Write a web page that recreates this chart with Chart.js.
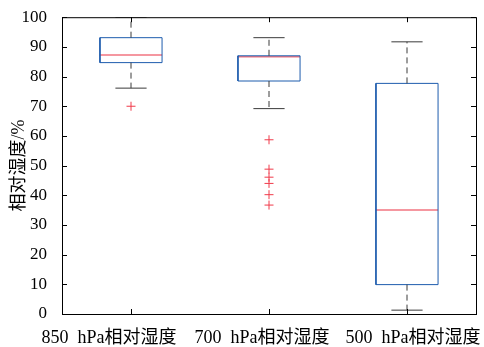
<!DOCTYPE html>
<html>
<head>
<meta charset="utf-8">
<script src="https://cdn.jsdelivr.net/npm/chart.js@4/dist/chart.umd.min.js"></script>
<style>
    html, body { margin: 0; padding: 0; background: #fff; }
    #wrap { width: 484px; height: 347px; }
</style>
</head>
<body>
<div id="wrap"><canvas id="myChart" width="484" height="347"></canvas></div>
<script>
// box plot values
const categories = ['850  hPa相对湿度', '700  hPa相对湿度', '500  hPa相对湿度'];
const q1 = [84.7, 78.5, 9.9];
const median = [87.3, 86.7, 35.0];
const q3 = [93.1, 87.0, 77.7];
const whiskerLow = [76.1, 69.2, 1.3];
const whiskerHigh = [100, 93.1, 91.7];
const outliers = [
    [70.0],
    [58.7, 48.8, 46.1, 44.0, 40.2, 36.7],
    []
];
const yMin = 0;
const yMax = 100;
const yStep = 10;

const fontFamily = '"Liberation Serif", "Noto Sans CJK SC", serif';
const boxColor = '#1d5cad';
const medianColor = '#f27580';
const whiskerColor = '#3a3a3a';
const outlierColor = '#f03a4a';
const boxHalf = 0.225;
const capHalf = 0.113;
const labelShift = [-22, -7, 6];

Chart.defaults.font.family = fontFamily;
Chart.defaults.color = '#000';

function segment(points, color, dash) {
    return {
        type: 'scatter',
        data: points,
        showLine: true,
        borderColor: color,
        borderWidth: 1,
        borderDash: dash || [],
        pointRadius: 0,
        pointHoverRadius: 0,
        fill: false
    };
}

const datasets = [];
categories.forEach((name, i) => {
    const x = i + 1;
    // dashed whiskers
    datasets.push(segment([{ x: x, y: q3[i] }, { x: x, y: whiskerHigh[i] }], whiskerColor, [6, 4]));
    datasets.push(segment([{ x: x, y: q1[i] }, { x: x, y: whiskerLow[i] }], whiskerColor, [6, 4]));
    // caps
    datasets.push(segment([{ x: x - capHalf, y: whiskerHigh[i] }, { x: x + capHalf, y: whiskerHigh[i] }], whiskerColor));
    datasets.push(segment([{ x: x - capHalf, y: whiskerLow[i] }, { x: x + capHalf, y: whiskerLow[i] }], whiskerColor));
    // box
    datasets.push(segment([
        { x: x - boxHalf, y: q1[i] },
        { x: x + boxHalf, y: q1[i] },
        { x: x + boxHalf, y: q3[i] },
        { x: x - boxHalf, y: q3[i] },
        { x: x - boxHalf, y: q1[i] }
    ], boxColor));
    // median
    const med = segment([{ x: x - boxHalf, y: median[i] }, { x: x + boxHalf, y: median[i] }], medianColor);
    med.borderWidth = 1.5;
    datasets.push(med);
    // outliers
    if (outliers[i].length) {
        datasets.push({
            type: 'scatter',
            data: outliers[i].map(v => ({ x: x, y: v })),
            pointStyle: 'cross',
            pointRadius: 4.5,
            pointBorderColor: outlierColor,
            pointBorderWidth: 1,
            borderColor: outlierColor,
            showLine: false
        });
    }
});

const framePlugin = {
    id: 'frame',
    afterDraw(chart) {
        const ctx = chart.ctx;
        const area = chart.chartArea;
        const xs = chart.scales.x;
        const ys = chart.scales.y;
        ctx.save();
        ctx.strokeStyle = '#000';
        ctx.lineWidth = 1;
        ctx.strokeRect(area.left + 0.5, area.top + 0.5, area.right - area.left, area.bottom - area.top);
        ctx.beginPath();
        for (let v = yMin; v <= yMax; v += yStep) {
            const py = Math.round(ys.getPixelForValue(v)) + 0.5;
            ctx.moveTo(area.left, py);
            ctx.lineTo(area.left + 5, py);
            ctx.moveTo(area.right, py);
            ctx.lineTo(area.right - 5, py);
        }
        categories.forEach((name, i) => {
            const px = Math.round(xs.getPixelForValue(i + 1)) + 0.5;
            ctx.moveTo(px, area.bottom);
            ctx.lineTo(px, area.bottom - 5);
            ctx.moveTo(px, area.top);
            ctx.lineTo(px, area.top + 5);
        });
        ctx.stroke();

        // category labels under the axis
        ctx.fillStyle = '#000';
        ctx.font = '18px ' + fontFamily;
        ctx.textAlign = 'center';
        ctx.textBaseline = 'middle';
        categories.forEach((name, i) => {
            const px = xs.getPixelForValue(i + 1) + labelShift[i];
            ctx.fillText(name, px, area.bottom + 24);
        });
        ctx.restore();
    }
};

const ctx = document.getElementById('myChart').getContext('2d');
new Chart(ctx, {
    type: 'scatter',
    data: { datasets: datasets },
    options: {
        responsive: false,
        animation: false,
        devicePixelRatio: 1,
        layout: { padding: { left: 0, right: 8, top: 14, bottom: 0 } },
        plugins: {
            legend: { display: false },
            tooltip: { enabled: false }
        },
        scales: {
            x: {
                type: 'linear',
                min: 0.5,
                max: 3.5,
                grid: { display: false },
                border: { display: false },
                ticks: { display: false },
                afterFit(scale) { scale.height = 33; }
            },
            y: {
                min: yMin,
                max: yMax,
                grid: { display: false },
                border: { display: false },
                ticks: {
                    stepSize: yStep,
                    padding: 7,
                    font: { size: 17 },
                    color: '#000'
                },
                title: {
                    display: true,
                    text: '相对湿度/%',
                    font: { size: 18 },
                    color: '#000',
                    padding: { top: 8, bottom: 0 }
                },
                afterFit(scale) { scale.width = 62; }
            }
        }
    },
    plugins: [framePlugin]
});
</script>
</body>
</html>
